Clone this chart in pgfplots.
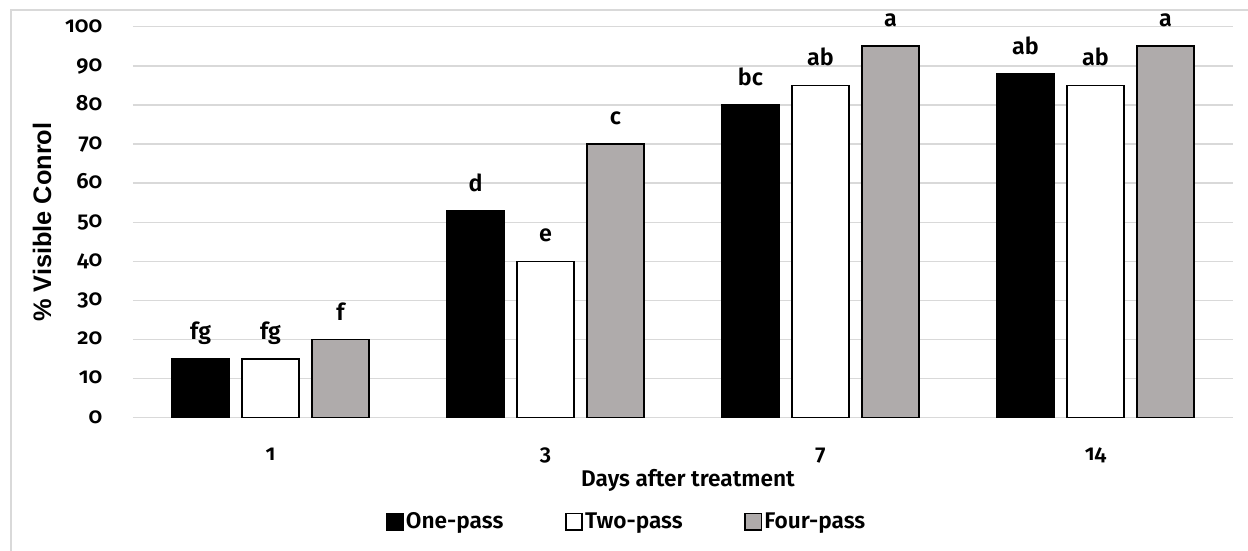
\documentclass[border=0pt]{standalone}
\usepackage{pgfplots}
\pgfplotsset{compat=1.18}
\usepackage{fontspec}
\setmainfont{Fira Sans SemiBold}
\newfontfamily\tickfont{Fira Sans SemiBold}[Numbers=OldStyle]
\newfontfamily\arialb{Liberation Sans Bold}
\definecolor{gridgray}{HTML}{D9D9D9}
\definecolor{bargray}{HTML}{AFABAB}
\begin{document}
\begin{tikzpicture}
\begin{axis}[
  at={(0,0)}, anchor=south west,
  scale only axis,
  width=825pt, height=293.25pt,
  xmin=-0.5, xmax=3.5, ymin=0, ymax=100,
  xtick={0,1,2,3}, xticklabels={1,3,7,14},
  ytick={0,10,...,100},
  ymajorgrids, grid style={gridgray, line width=1.1pt},
  axis line style={draw=none},
  major tick length=0pt,
  /pgf/number format/assume math mode=true,
  xticklabel style={font=\tickfont\fontsize{16.5}{18}\selectfont, anchor=base, yshift=-32pt},
  yticklabel style={font=\tickfont\fontsize{16.5}{18}\selectfont, anchor=base east, xshift=-19.5pt, yshift=-4pt},
  xlabel={Days after treatment},
  xlabel style={font=\fontsize{17}{20}\selectfont, at={(axis description cs:0.5,0)}, anchor=base, xshift=3.75pt, yshift=-51.8pt},
  ylabel={\% Visible Conrol},
  ylabel style={font=\arialb\fontsize{19}{22}\selectfont, at={(axis description cs:0,0.5)}, anchor=center, rotate=0, yshift=68.25pt},
  bar width=0.2073,
  nodes near coords,
  point meta=explicit symbolic,
  every node near coord/.append style={font=\fontsize{17.5}{20}\selectfont, anchor=base, yshift=14.6pt, inner sep=0pt},
  legend columns=3,
  legend style={draw=none, fill=none, font=\fontsize{17}{20}\selectfont,
    at={(axis description cs:0,0)}, anchor=west, xshift=189.75pt, yshift=-78pt,
    inner sep=0pt, outer sep=0pt,
    /tikz/every odd column/.append style={column sep=0pt},
    /tikz/every even column/.append style={column sep=0pt},
    nodes={inner sep=1.5pt}},
  legend image code/.code={\draw[#1, line width=1.2pt] (0pt,-6.1pt) rectangle (12.2pt,6.1pt);},
]
\addplot[ybar, bar shift=0pt, fill=black, draw=black, line width=1pt]
  coordinates {(-0.2545,15) [fg] (0.7455,53) [d] (1.7455,80) [bc] (2.7455,88) [ab]};
\addlegendentry{\makebox[118pt][l]{One-pass}}
\addplot[ybar, bar shift=0pt, fill=white, draw=black, line width=1.2pt]
  coordinates {(0,15) [fg] (1,40) [e] (2,85) [ab] (3,85) [ab]};
\addlegendentry{\makebox[118pt][l]{Two-pass}}
\addplot[ybar, bar shift=0pt, fill=bargray, draw=black, line width=1.2pt]
  coordinates {(0.2545,20) [f] (1.2545,70) [c] (2.2545,95) [a] (3.2545,95) [a]};
\addlegendentry{Four-pass}
\end{axis}
\draw[gridgray, line width=0.9pt] (-91.5pt,-120pt) -- (-91.5pt,305.8pt) -- (900pt,305.8pt);
\pgfresetboundingbox
\path[use as bounding box] (-99.75pt,-99.2pt) rectangle (836.25pt,313.3pt);
\end{tikzpicture}
\end{document}
